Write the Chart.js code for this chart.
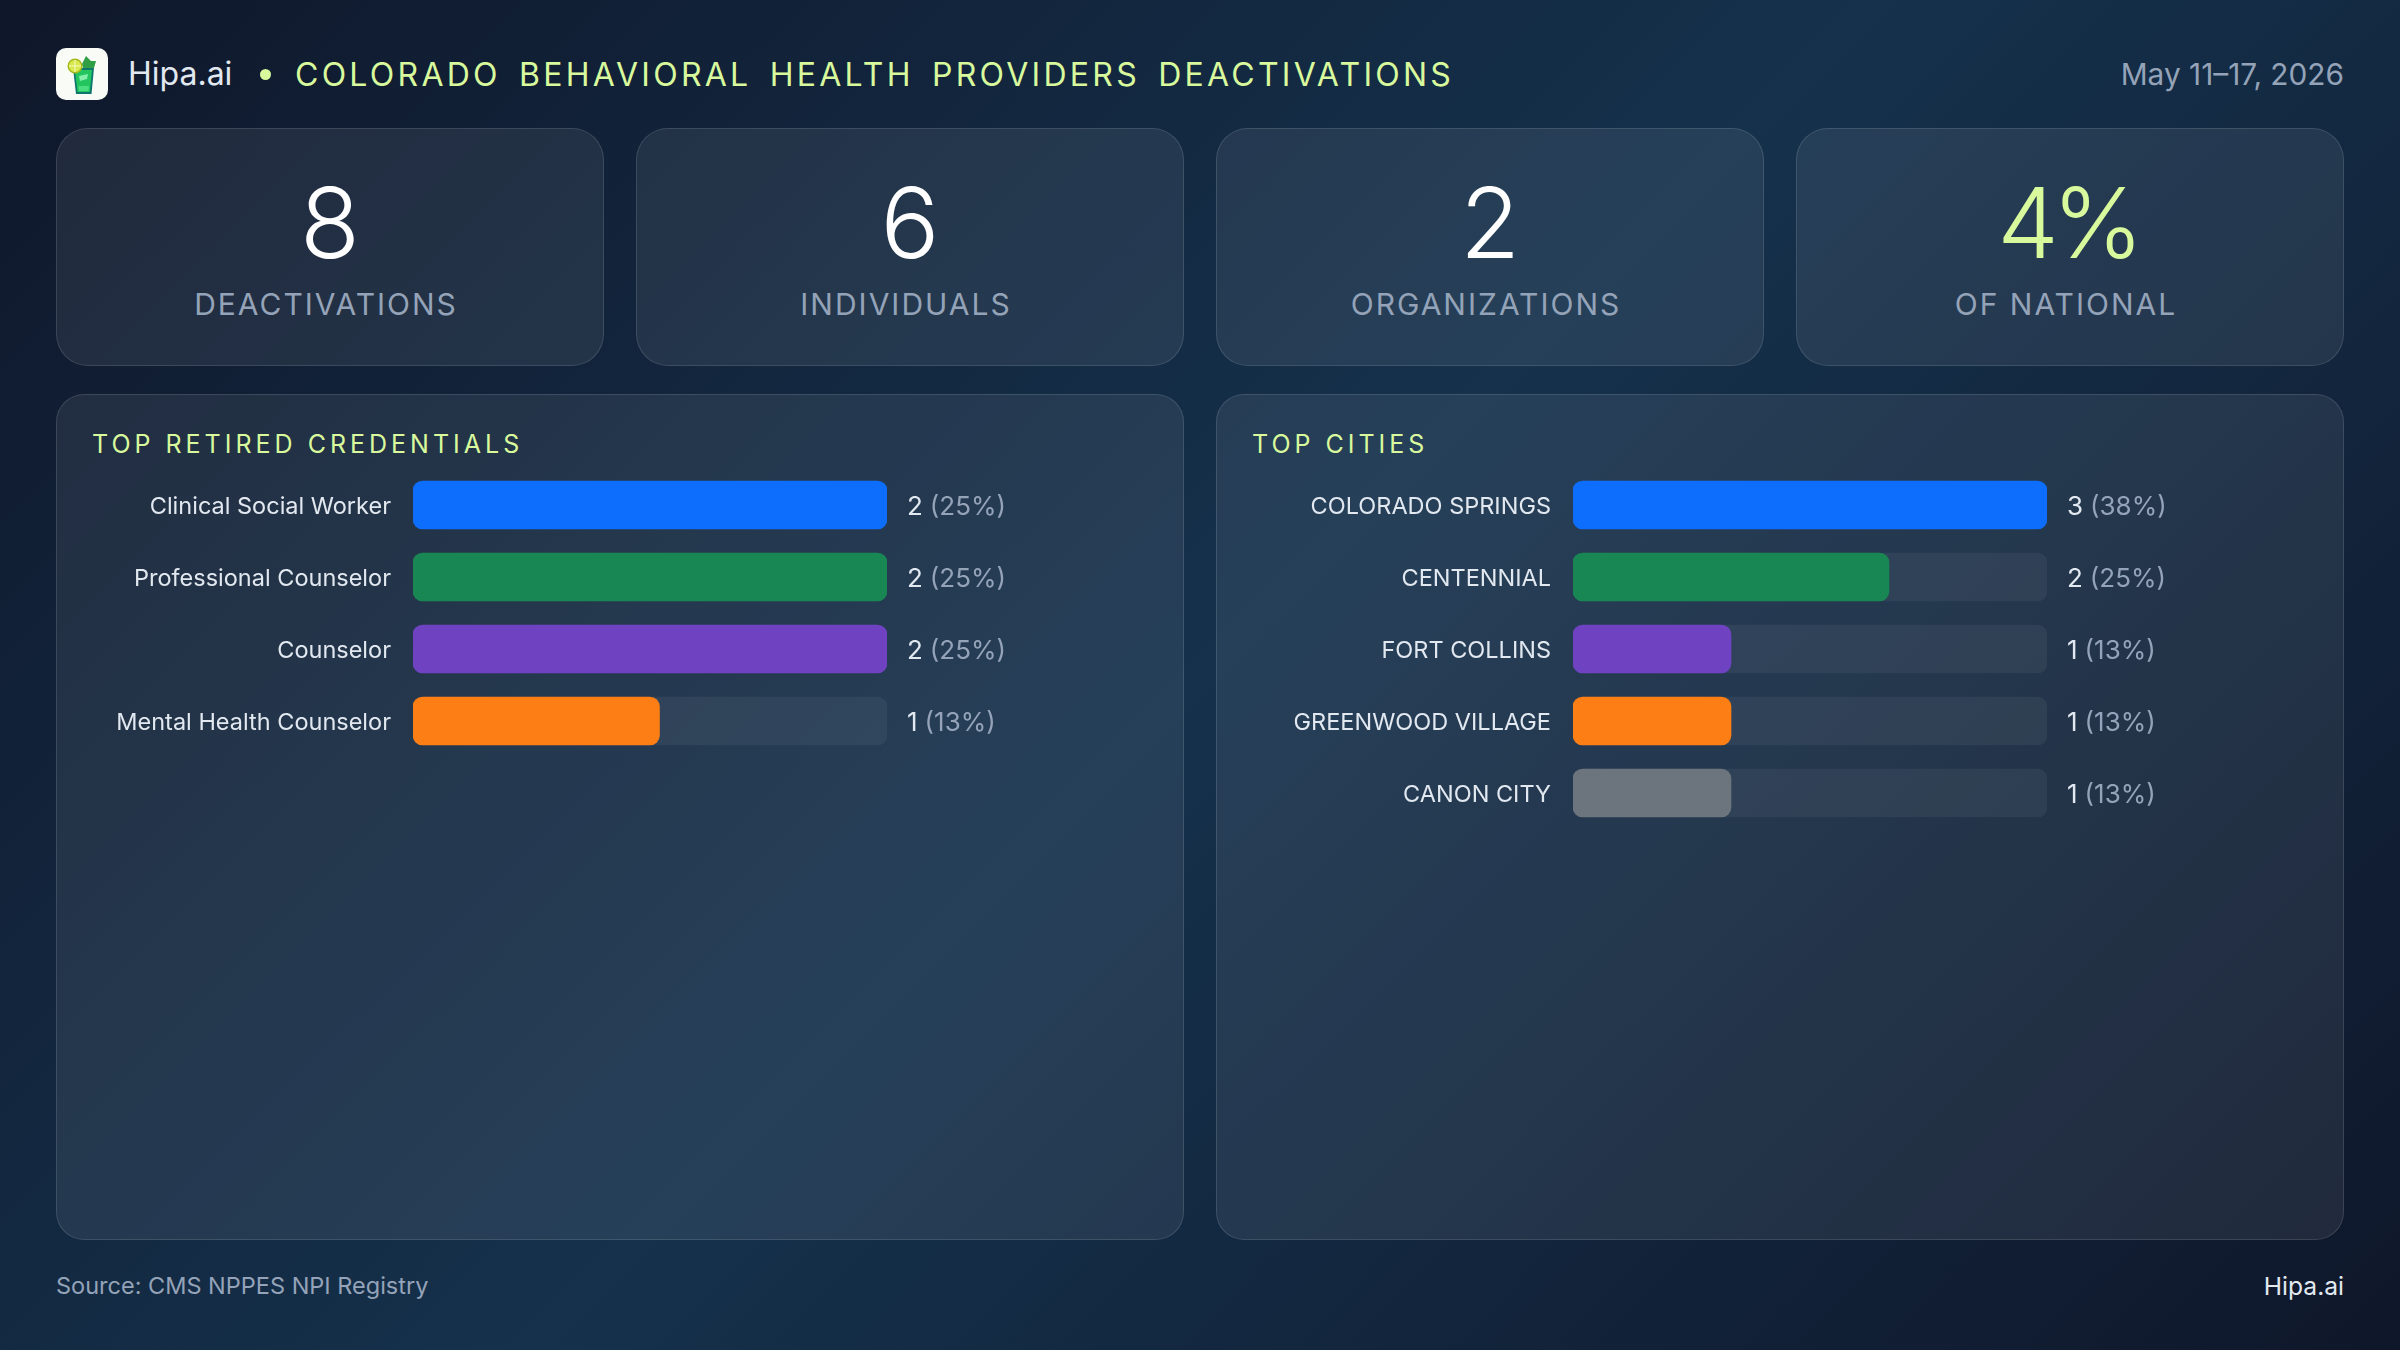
<!DOCTYPE html>
<html>
<head>
<meta charset="utf-8">
<title>Colorado Behavioral Health Providers Deactivations</title>
<script src="https://cdn.jsdelivr.net/npm/chart.js@4"></script>
<style>
    * { box-sizing: border-box; margin: 0; padding: 0; }
    html, body { width: 2400px; height: 1350px; overflow: hidden; }
    body {
        position: relative;
        font-family: Inter, "Noto Sans", sans-serif;
        background: linear-gradient(135deg, #0f172a 0%, #15314c 50%, #0f172a 100%);
    }
    .abs { position: absolute; white-space: nowrap; }
    .logo { left: 56px; top: 48px; width: 52px; height: 52px; }
    .brand { left: 128px; top: 54px; font-size: 32px; line-height: 40px; color: #e2e8f0; }
    .dot { left: 260px; top: 69px; width: 11px; height: 11px; border-radius: 50%; background: #d9f99d; }
    .title { left: 295px; top: 55px; font-size: 32px; line-height: 40px; color: #d9f99d; letter-spacing: 3.26px; word-spacing: 6px; }
    .date { right: 56px; top: 54px; font-size: 29.8px; line-height: 40px; color: #94a3b8; }
    .card {
        position: absolute;
        background: rgba(255, 255, 255, 0.075);
        border: 1.5px solid rgba(255, 255, 255, 0.12);
    }
    .stat { top: 128px; width: 548px; height: 238px; border-radius: 32px; text-align: center; }
    .stat .num { position: absolute; left: 0; right: 0; top: 45px; font-size: 98px; line-height: 98px; font-weight: 350; color: #fff; }
    .stat .lbl { position: absolute; left: 0; right: 8px; top: 155px; font-size: 30px; line-height: 40px; letter-spacing: 2px; color: #94a3b8; }
    .panel { top: 394px; width: 1128px; height: 846px; border-radius: 28px; }
    .panel h2 { position: absolute; left: 35px; top: 33px; font-size: 25px; line-height: 32px; font-weight: 400; letter-spacing: 4px; color: #d9f99d; }
    .chart-box { position: absolute; }
    .source { left: 56px; top: 1270px; font-size: 23.5px; line-height: 32px; color: #94a3b8; }
    .foot { right: 56px; top: 1270px; font-size: 24.6px; line-height: 32px; color: #e2e8f0; }
</style>
</head>
<body>

<svg class="abs logo" viewBox="0 0 52 52">
    <rect width="52" height="52" rx="10" fill="#f8fbf6"/>
    <path d="M26 16 L30 8 L35 13 L40 13 L38 20 L27 20 Z" fill="#2f9e44"/>
    <path d="M17 20 L38 20 L35.5 46 L20 46 Z" fill="#0f766e"/>
    <path d="M19 22 L36 22 L33.8 44 L21.5 44 Z" fill="#22c55e"/>
    <path d="M23 28 L32 26 L31 31 L24 33 Z" fill="#86efac"/>
    <path d="M22.5 38 L33 38 L32.5 43 L23 43 Z" fill="#4ade80"/>
    <circle cx="19" cy="18" r="6.8" fill="#d9e84a" stroke="#a3b81c" stroke-width="1.4"/>
    <path d="M19 12 V24 M13 18 H25" stroke="#f4f9c8" stroke-width="1"/>
</svg>
<div class="abs brand">Hipa.ai</div>
<div class="abs dot"></div>
<div class="abs title">COLORADO BEHAVIORAL HEALTH PROVIDERS DEACTIVATIONS</div>
<div class="abs date">May 11–17, 2026</div>

<div class="card stat" style="left:56px"><div class="num">8</div><div class="lbl">DEACTIVATIONS</div></div>
<div class="card stat" style="left:636px"><div class="num">6</div><div class="lbl">INDIVIDUALS</div></div>
<div class="card stat" style="left:1216px"><div class="num">2</div><div class="lbl">ORGANIZATIONS</div></div>
<div class="card stat" style="left:1796px"><div class="num" style="color:#d9f99d;letter-spacing:-7px;right:6px">4%</div><div class="lbl">OF NATIONAL</div></div>

<div class="card panel" style="left:56px"><h2>TOP RETIRED CREDENTIALS</h2></div>
<div class="card panel" style="left:1216px"><h2>TOP CITIES</h2></div>

<div class="chart-box" style="left:80px;top:469px;width:1084px;height:288px"><canvas id="graficoCredenciais"></canvas></div>
<div class="chart-box" style="left:1240px;top:469px;width:1084px;height:360px"><canvas id="graficoCidades"></canvas></div>

<div class="abs source">Source: CMS NPPES NPI Registry</div>
<div class="abs foot">Hipa.ai</div>

<script>
const barColors = ["#0d6efd", "#198754", "#6f42c1", "#fd7e14", "#6c757d"];

// credentials
const credentialLabels = ["Clinical Social Worker", "Professional Counselor", "Counselor", "Mental Health Counselor"];
const credentialCounts = [2, 2, 2, 1];
const credentialPercents = [25, 25, 25, 13];
const credentialTrack = [25, 25, 25, 25];

// cities
const cityLabels = ["COLORADO SPRINGS", "CENTENNIAL", "FORT COLLINS", "GREENWOOD VILLAGE", "CANON CITY"];
const cityCounts = [3, 2, 1, 1, 1];
const cityPercents = [38, 25, 13, 13, 13];
const cityTrack = [3, 3, 3, 3, 3];

// "2 (25%)" next to the end of each track
const valueLabels = {
    id: "valueLabels",
    afterDatasetsDraw(chart, args, opts) {
        const { ctx, chartArea } = chart;
        const meta = chart.getDatasetMeta(1);
        ctx.save();
        ctx.font = "26px Inter";
        ctx.textBaseline = "middle";
        meta.data.forEach((bar, i) => {
            const count = String(opts.counts[i]);
            const x = chartArea.right + 20;
            ctx.fillStyle = "#e2e8f0";
            ctx.fillText(count, x, bar.y + 2);
            ctx.fillStyle = "#94a3b8";
            ctx.fillText(`(${opts.percents[i]}%)`, x + ctx.measureText(count).width + 7, bar.y + 2);
        });
        ctx.restore();
    }
};

function gerarGrafico(id, labels, fill, track, counts, percents) {
    new Chart(document.getElementById(id), {
        type: "bar",
        plugins: [valueLabels],
        data: {
            labels: labels,
            datasets: [
                {
                    data: fill,
                    backgroundColor: barColors,
                    borderRadius: 10,
                    borderSkipped: false,
                    grouped: false,
                    order: 1
                },
                {
                    data: track,
                    backgroundColor: "rgba(255,255,255,0.055)",
                    borderRadius: 10,
                    borderSkipped: false,
                    grouped: false,
                    order: 2
                }
            ]
        },
        options: {
            indexAxis: "y",
            responsive: true,
            maintainAspectRatio: false,
            animation: false,
            layout: { padding: { right: 277, top: 0, bottom: 0, left: 0 } },
            datasets: { bar: { barThickness: 48 } },
            plugins: {
                legend: { display: false },
                tooltip: { enabled: false },
                valueLabels: { counts: counts, percents: percents }
            },
            scales: {
                x: {
                    display: false,
                    min: 0,
                    max: track[0]
                },
                y: {
                    // fixed gutter for the names, rows fill the full height
                    afterFit: s => {
                        s.width = 333;
                        s.paddingTop = 0;
                        s.paddingBottom = 0;
                    },
                    border: { display: false },
                    grid: { display: false },
                    ticks: {
                        color: "#e2e8f0",
                        font: { family: "Inter", size: 23.5 },
                        padding: 14,
                        labelOffset: 1.5
                    }
                }
            }
        }
    });
}

gerarGrafico("graficoCredenciais", credentialLabels, credentialPercents, credentialTrack, credentialCounts, credentialPercents);
gerarGrafico("graficoCidades", cityLabels, cityCounts, cityTrack, cityCounts, cityPercents);
</script>
</body>
</html>
